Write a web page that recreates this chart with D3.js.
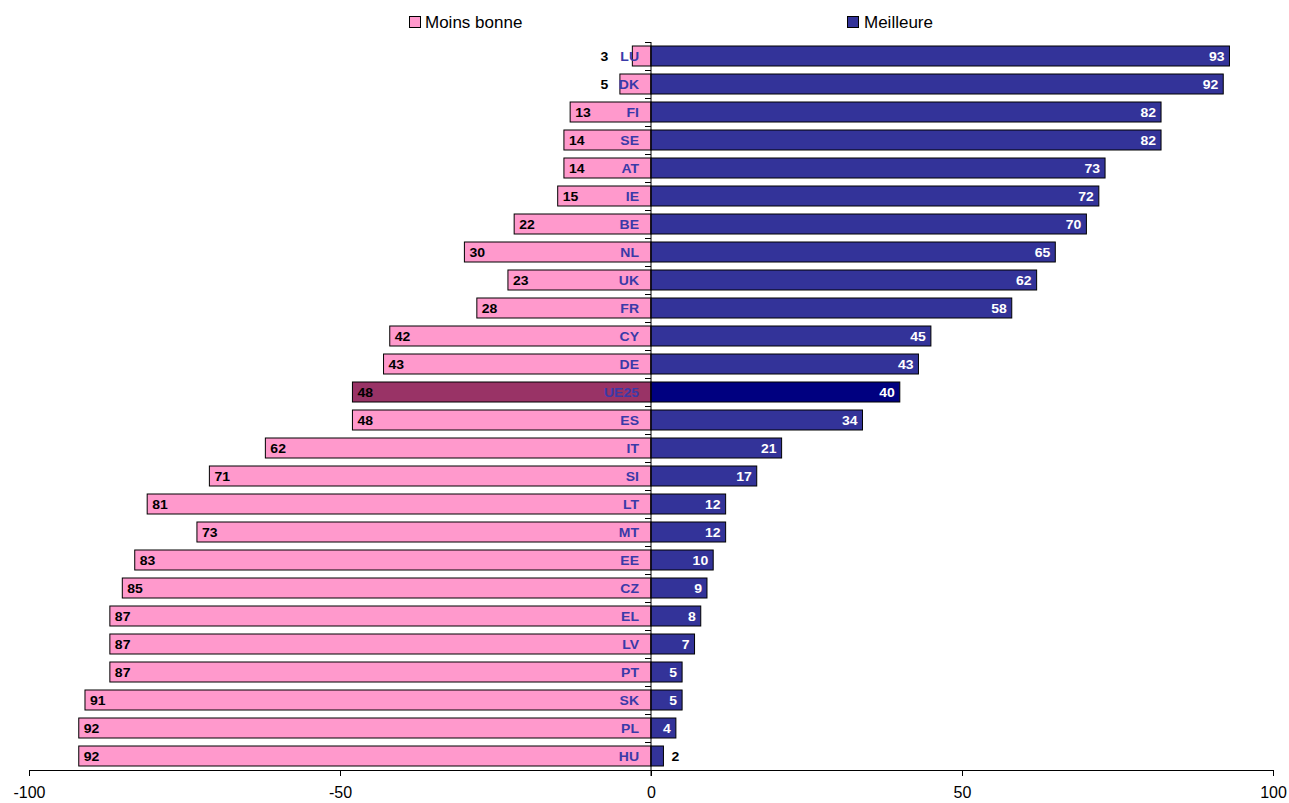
<!DOCTYPE html>
<html><head><meta charset="utf-8">
<script src="https://cdn.jsdelivr.net/npm/d3@7"></script>
<style>body{margin:0;background:#fff}svg{display:block;font-family:"Liberation Sans",Arial,sans-serif}</style>
</head><body><svg id="c" width="1289" height="803"></svg>
<script>
const countries = ["LU","DK","FI","SE","AT","IE","BE","NL","UK","FR","CY","DE","UE25","ES","IT","SI","LT","MT","EE","CZ","EL","LV","PT","SK","PL","HU"];
const worse = [3,5,13,14,14,15,22,30,23,28,42,43,48,48,62,71,81,73,83,85,87,87,87,91,92,92];
const better = [93,92,82,82,73,72,70,65,62,58,45,43,40,34,21,17,12,12,10,9,8,7,5,5,4,2];
const xTicks = [-100,-50,0,50,100];
const seriesNames = ["Moins bonne","Meilleure"];

const svg = d3.select("#c");
const x = d3.scaleLinear().domain([-100,100]).range([29,1273]);
const y = d3.scaleBand().domain(countries).range([42,770]).paddingInner(8/28).paddingOuter(4/28);
const pink="#ff99cc", blue="#333399", pinkHi="#993366", blueHi="#000080";
const rows = countries.map((c,i)=>({c, w:worse[i], b:better[i]}));

// title fragment (cut off at top, as in the reference)
svg.append("text").attr("x",572).attr("y",-3).attr("text-anchor","middle").attr("font-size",15).text("(%)");

// bars
const g = svg.append("g");
g.selectAll("rect.w").data(rows).join("rect")
  .attr("x",d=>x(-d.w)).attr("y",d=>y(d.c)).attr("width",d=>x(0)-x(-d.w)).attr("height",y.bandwidth())
  .attr("fill",d=>d.c==="UE25"?pinkHi:pink).attr("stroke","#000").attr("stroke-width",1);
g.selectAll("rect.b").data(rows).join("rect")
  .attr("x",x(0)).attr("y",d=>y(d.c)).attr("width",d=>x(d.b)-x(0)).attr("height",y.bandwidth())
  .attr("fill",d=>d.c==="UE25"?blueHi:blue).attr("stroke","#000").attr("stroke-width",1);

// category axis line with small ticks
const bounds = d3.range(countries.length).map(i=>y.range()[0]+i*y.step());
svg.append("line").attr("x1",x(0)).attr("x2",x(0)).attr("y1",42).attr("y2",776).attr("stroke","#000");
svg.selectAll("line.ct").data(bounds).join("line")
  .attr("x1",x(0)-6).attr("x2",x(0)).attr("y1",d=>d+0.5).attr("y2",d=>d+0.5).attr("stroke","#000");

// x axis
const ax = svg.append("g").attr("transform","translate(0,770)")
  .call(d3.axisBottom(x).tickValues(xTicks).tickFormat(d=>String(d)).tickSize(6).tickPadding(11).tickSizeOuter(0));
ax.select(".domain").attr("stroke","#000");
ax.selectAll("line").attr("stroke","#000");
ax.selectAll("text").attr("font-size",16).attr("font-family","Liberation Sans, Arial, sans-serif").attr("fill","#000");

// labels (slightly widened bold text like the reference)
const sx = 1.12;
const lab = svg.append("g").attr("font-size",12.5).attr("font-weight","bold");
lab.selectAll("text.wv").data(rows).join("text")
  .attr("transform",d=>`translate(${d.w<10? x(-7.5) : x(-d.w)+5},${y(d.c)+y.bandwidth()/2}) scale(${sx},1)`)
  .attr("text-anchor",d=>d.w<10?"middle":"start")
  .attr("dy","0.36em").attr("fill","#000").text(d=>d.w);
lab.selectAll("text.cn").data(rows).join("text")
  .attr("transform",d=>`translate(${x(0)-12},${y(d.c)+y.bandwidth()/2}) scale(${sx},1)`)
  .attr("text-anchor","end").attr("dy","0.36em").attr("fill","#3a3aa8").text(d=>d.c);
lab.selectAll("text.bv").data(rows).join("text")
  .attr("transform",d=>`translate(${d.b<3? x(d.b)+8 : x(d.b)-5},${y(d.c)+y.bandwidth()/2}) scale(${sx},1)`)
  .attr("text-anchor",d=>d.b<3?"start":"end")
  .attr("dy","0.36em").attr("fill",d=>d.b<3?"#000":"#fff").text(d=>d.b);

// legend
const leg = svg.append("g");
const legPos = [409,847];
const legText = [425,864];
seriesNames.forEach((n,i)=>{
  leg.append("rect").attr("x",legPos[i]+0.5).attr("y",16.5).attr("width",11).attr("height",11)
    .attr("fill",i?blue:pink).attr("stroke","#000");
  leg.append("text").attr("x",legText[i]).attr("y",28).attr("font-size",17).text(n);
});
</script></body></html>
